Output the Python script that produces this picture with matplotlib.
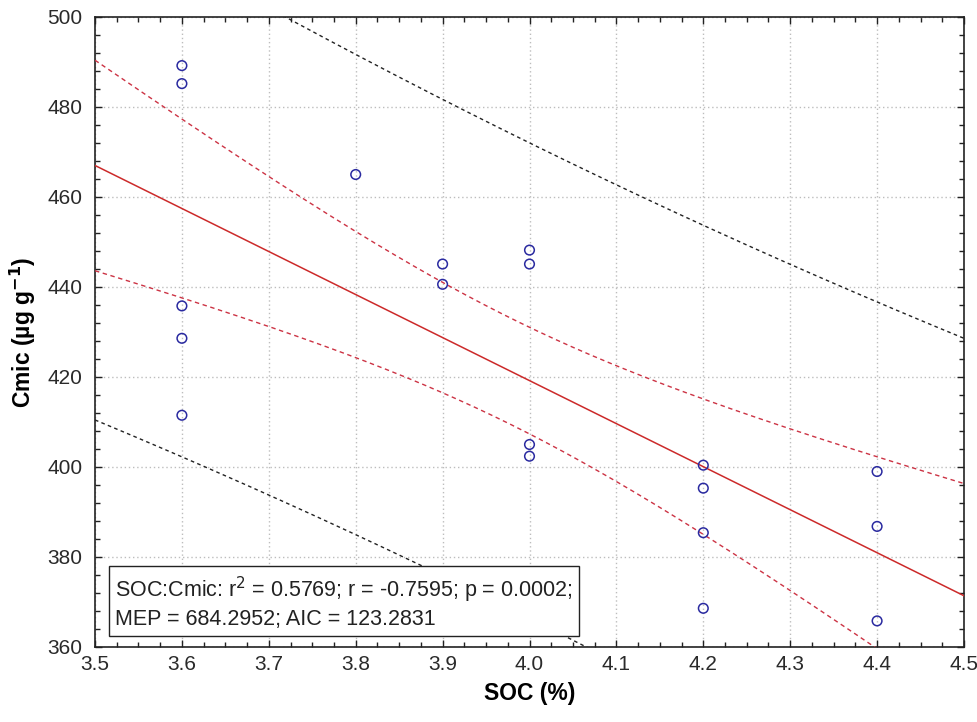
import numpy as np
import matplotlib
matplotlib.use("Agg")
import matplotlib.pyplot as plt
from matplotlib.ticker import MultipleLocator, FormatStrFormatter

plt.rcParams['font.family'] = ['Liberation Sans', 'DejaVu Sans']

# Soil organic carbon (%) and microbial biomass carbon (µg g-1)
soc = [3.6, 3.6, 3.6, 3.6, 3.6,
       3.8,
       3.9, 3.9,
       4.0, 4.0, 4.0, 4.0,
       4.2, 4.2, 4.2, 4.2,
       4.4, 4.4, 4.4]
cmic = [489.2, 485.2, 435.8, 428.6, 411.5,
        465.0,
        445.1, 440.6,
        448.2, 445.1, 405.0, 402.4,
        400.4, 395.3, 385.4, 368.6,
        399.0, 386.8, 365.8]

stats_text = ("SOC:Cmic: r$^{2}$ = 0.5769; r = -0.7595; p = 0.0002;\n"
              "MEP = 684.2952; AIC = 123.2831")

x = np.asarray(soc)
y = np.asarray(cmic)
n = len(x)
slope, intercept = np.polyfit(x, y, 1)
resid = y - (slope * x + intercept)
s = np.sqrt(np.sum(resid ** 2) / (n - 2))
xm = x.mean()
sxx = np.sum((x - xm) ** 2)
t_crit = 2.1098  # two-sided 95 %, 17 degrees of freedom

xs = np.linspace(3.5, 4.5, 300)
yfit = slope * xs + intercept
se_conf = s * np.sqrt(1.0 / n + (xs - xm) ** 2 / sxx)
se_pred = s * np.sqrt(1.0 + 1.0 / n + (xs - xm) ** 2 / sxx)

fig = plt.figure(figsize=(9.77, 7.22), dpi=100)
ax = fig.add_axes([95 / 977, 1 - 647 / 722, 869 / 977, 630 / 722])

ax.plot(xs, yfit, color='#cc2a2a', lw=1.1, zorder=3)
for sign in (1, -1):
    ax.plot(xs, yfit + sign * t_crit * se_conf, color='#cc3344', lw=1.0,
            dashes=(3.2, 2.6), zorder=3)
    ax.plot(xs, yfit + sign * t_crit * se_pred, color='#222222', lw=1.0,
            dashes=(2.6, 2.4), zorder=3)

ax.scatter(x, y, s=48, facecolors='none', edgecolors='#2a2aa0',
           linewidths=1.1, zorder=4)

ax.set_xlim(3.5, 4.5)
ax.set_ylim(360, 500)
ax.xaxis.set_major_locator(MultipleLocator(0.1))
ax.xaxis.set_minor_locator(MultipleLocator(0.025))
ax.yaxis.set_major_locator(MultipleLocator(20))
ax.yaxis.set_minor_locator(MultipleLocator(4))
ax.xaxis.set_major_formatter(FormatStrFormatter('%.1f'))

ax.tick_params(which='both', direction='in', top=True, right=True,
               color='#222222')
ax.tick_params(which='major', length=5, width=1.0, labelsize=15,
               labelcolor='#2a2a2a')
ax.tick_params(axis='x', which='major', pad=6)
ax.tick_params(axis='y', which='major', pad=9)
ax.tick_params(which='minor', length=3.5, width=1.0)
for sp in ax.spines.values():
    sp.set_linewidth(1.2)
    sp.set_color('#222222')

ax.grid(True, which='major', color='#bdbdbd', linestyle=(0, (1, 2)), lw=1.0)
ax.set_axisbelow(True)

ax.set_xlabel('SOC (%)', fontsize=16.5, fontweight='bold')
ax.set_ylabel('Cmic (µg g$^{\\mathbf{-1}}$)', fontsize=16.5, fontweight='bold')
ax.xaxis.set_label_coords(0.5, -0.056)
ax.yaxis.set_label_coords(-0.066, 0.5)

ax.text(0.023, 0.027, stats_text, transform=ax.transAxes, fontsize=15.5,
        color='#222222', va='bottom', ha='left', linespacing=1.25, zorder=6,
        bbox=dict(boxstyle='square,pad=0.3', facecolor='white',
                  edgecolor='#222222', linewidth=1.0))

fig.savefig('out.png', dpi=100)
